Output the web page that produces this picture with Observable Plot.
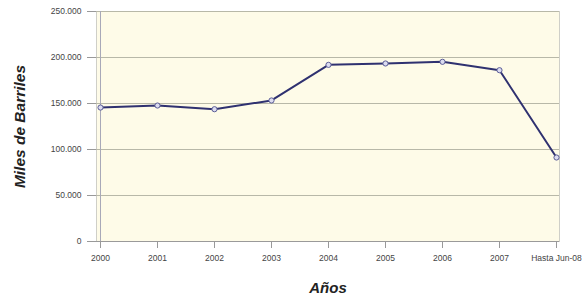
<!DOCTYPE html>
<html>
<head>
<meta charset="utf-8">
<script src="https://cdn.jsdelivr.net/npm/d3@7"></script>
<script src="https://cdn.jsdelivr.net/npm/@observablehq/plot@0.6"></script>
<style>
  html, body { margin: 0; padding: 0; background: #fff; }
  #chart svg { display: block; }
</style>
</head>
<body>
<div id="chart"></div>
<script>
const categories = ["2000", "2001", "2002", "2003", "2004", "2005", "2006", "2007", "Hasta Jun-08"];
const values = [145600, 147800, 143800, 153300, 192000, 193500, 195300, 186200, 91300];
const yTicks = [0, 50000, 100000, 150000, 200000, 250000];

const data = categories.map((c, i) => ({ cat: c, value: values[i] }));
const fmt = d3.formatLocale({ thousands: ".", decimal: ",", grouping: [3], currency: ["", ""] }).format(",");

const navy = "#2f3170";
const font = "Liberation Sans, Arial, sans-serif";

const chart = Plot.plot({
  width: 586,
  height: 301,
  marginLeft: 96,
  marginRight: 27,
  marginTop: 11,
  marginBottom: 60,
  style: { fontFamily: font, fontSize: "8.5px", color: "#444", background: "#fff" },
  x: { type: "point", domain: categories, padding: 0 },
  y: { domain: [0, 250000] },
  marks: [
    Plot.frame({ fill: "#fefbe8", stroke: "#cfcfc8" }),
    Plot.ruleY(yTicks.filter(d => d > 0), { stroke: "#b8b8a8", strokeWidth: 1 }),
    Plot.ruleY([0], { stroke: "#9a9a9a" }),
    Plot.ruleX([categories[0]], { stroke: "#a8a8b8" }),
    Plot.axisY({ ticks: yTicks, tickFormat: fmt, tickSize: 9, tickPadding: 6, stroke: "#999", label: null }),
    Plot.axisX({ tickSize: 7, tickPadding: 6, stroke: "#999", label: null }),
    Plot.line(data, { x: "cat", y: "value", stroke: navy, strokeWidth: 2 }),
    Plot.dot(data, { x: "cat", y: "value", r: 2.6, fill: "#dcdcf0", stroke: "#5a5c96", strokeWidth: 1 }),
    Plot.text(["Miles de Barriles"], { frameAnchor: "left", textAnchor: "middle", dx: -76, rotate: -90, fontSize: 15.5, fontWeight: "bold", fontStyle: "italic", fill: "#222" }),
    Plot.text(["Años"], { frameAnchor: "bottom", dy: 51, fontSize: 15, fontWeight: "bold", fontStyle: "italic", fill: "#222" })
  ]
});
document.getElementById("chart").appendChild(chart);
</script>
</body>
</html>
